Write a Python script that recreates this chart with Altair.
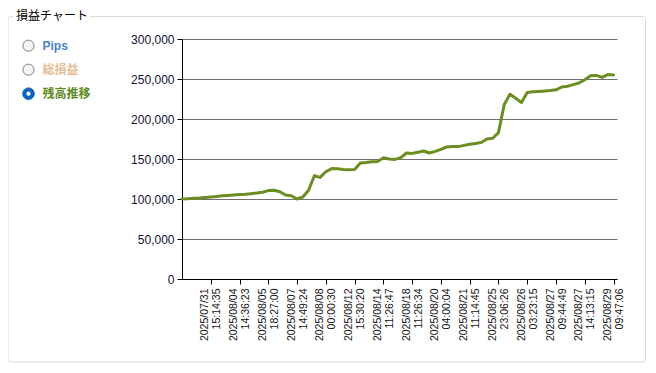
import json
import altair as alt
import pandas as pd

# ---- data ----
balance = [
    100000, 100300, 100800, 101300, 102000, 102500, 103000, 104000, 104500, 105000,
    105500, 106000, 106700, 107500, 108500, 110500, 111000, 109000, 105000, 104000,
    100000, 102500, 111000, 129000, 127000, 134000, 138000, 137800, 137000, 136500,
    137000, 145000, 145500, 146500, 147000, 151500, 150000, 149500, 151500, 157500,
    157000, 158500, 160000, 157500, 159500, 162000, 165000, 165500, 165500, 167000,
    168500, 169500, 170500, 175000, 176000, 183000, 218000, 231000, 226000, 220500,
    233000, 234000, 234500, 235000, 235500, 236500, 240000, 241000, 243000, 245000,
    249000, 254000, 254500, 252000, 255500, 255000,
]

tick_labels = [
    "2025/07/31|15:14:35", "2025/08/04|14:36:23", "2025/08/05|18:27:00",
    "2025/08/07|14:49:24", "2025/08/08|00:00:30", "2025/08/12|15:30:20",
    "2025/08/14|11:26:47", "2025/08/18|11:26:34", "2025/08/20|04:00:04",
    "2025/08/21|11:14:45", "2025/08/25|23:06:26", "2025/08/26|03:23:15",
    "2025/08/27|09:44:49", "2025/08/27|14:13:15", "2025/08/29|09:47:06",
]
tick_step = 5

y_ticks = [0, 50000, 100000, 150000, 200000, 250000, 300000]

options = ["Pips", "総損益", "残高推移"]
option_colors = ["#4a82c4", "#e2bf96", "#5f8a1f"]
selected_option = "残高推移"
group_title = "損益チャート"

# ---- chart ----
df = pd.DataFrame({"idx": list(range(len(balance))), "balance": balance})
tick_vals = [tick_step * (i + 1) for i in range(len(tick_labels))]
label_expr = (
    "split(" + json.dumps(tick_labels, ensure_ascii=False)
    + "[round(datum.value / " + str(tick_step) + ") - 1], '|')"
)

FONT = "Liberation Sans, Noto Sans CJK JP"
one = pd.DataFrame({"k": [0]})

line = alt.Chart(df).mark_line(
    color="#6b8e23", strokeWidth=3, strokeJoin="round", strokeCap="round"
).encode(
    x=alt.X(
        "idx:Q",
        scale=alt.Scale(domain=[0, 75.6], nice=False, zero=False),
        axis=alt.Axis(
            values=tick_vals, labelExpr=label_expr, labelAngle=270,
            labelAlign="right", labelBaseline="middle", labelFontSize=10.5,
            labelLineHeight=12, labelPadding=4, labelOffset=-6, tickSize=5,
            grid=False, title=None, labelOverlap=False, labelFlush=False,
            domainColor="#000000", tickColor="#000000", labelColor="#111111",
            labelFont=FONT,
        ),
    ),
    y=alt.Y(
        "balance:Q",
        scale=alt.Scale(domain=[0, 300000], nice=False),
        axis=alt.Axis(
            values=y_ticks, format=",d", title=None, grid=True,
            gridColor="#6e6e6e", gridWidth=1, tickSize=5, labelPadding=3,
            labelFontSize=12, labelFont=FONT, labelColor="#111133",
            domainColor="#000000", tickColor="#000000",
        ),
    ),
)

frame = alt.Chart(one).mark_rect(
    fillOpacity=0, stroke="#d9d9d9", strokeWidth=1, cornerRadius=3
).encode(
    x=alt.value(-174), x2=alt.value(463.5), y=alt.value(-22.5), y2=alt.value(323)
)
patch = alt.Chart(one).mark_rect(fill="white").encode(
    x=alt.value(-169), x2=alt.value(-92), y=alt.value(-26), y2=alt.value(-19)
)
title = alt.Chart(pd.DataFrame({"t": [group_title]})).mark_text(
    align="left", baseline="middle", fontSize=12, font=FONT, color="#000000"
).encode(x=alt.value(-166), y=alt.value(-23), text="t:N")

layers = [frame, patch, title]
for i, (opt, col) in enumerate(zip(options, option_colors)):
    yv = 6.7 + 24 * i
    d = pd.DataFrame({"option": [opt]})
    if opt == selected_option:
        layers.append(alt.Chart(d).mark_point(
            shape="circle", filled=True, fill="#0a64be", stroke="#0a64be",
            strokeWidth=1, size=135, opacity=1
        ).encode(x=alt.value(-153.5), y=alt.value(yv)))
        layers.append(alt.Chart(d).mark_point(
            shape="circle", filled=True, fill="#ffffff", size=18, opacity=1
        ).encode(x=alt.value(-153.5), y=alt.value(yv)))
    else:
        layers.append(alt.Chart(d).mark_point(
            shape="circle", filled=True, fill="#f4f4f4", stroke="#7d7d7d",
            strokeWidth=1, size=125, opacity=1
        ).encode(x=alt.value(-153.5), y=alt.value(yv)))
    layers.append(alt.Chart(d).mark_text(
        align="left", baseline="middle", fontSize=12, fontWeight="bold",
        font=FONT, color=col
    ).encode(x=alt.value(-139.5), y=alt.value(yv + 0.5), text="option:N"))

layers.append(line)

chart = alt.layer(*layers).properties(
    width=435, height=240,
    autosize=alt.AutoSizeParams(type="none"),
    padding={"left": 174, "top": 31, "right": 30, "bottom": 85},
    background="white",
).configure_view(stroke=None)

chart.save("out.html", embed_options={"renderer": "svg", "actions": False})
